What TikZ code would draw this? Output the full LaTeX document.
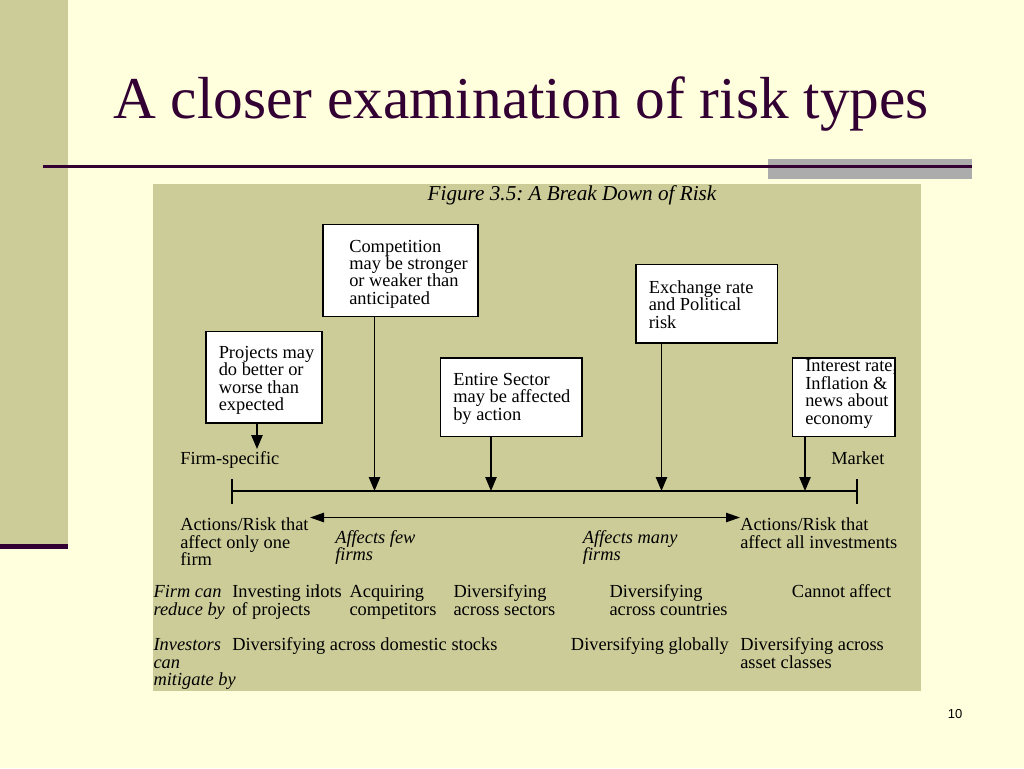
\documentclass[tikz,border=0pt]{standalone}
\usepackage{fontspec}
\setmainfont{Liberation Serif}
\newfontfamily\pnfont{Liberation Sans}
\usetikzlibrary{arrows.meta,fit}
\frenchspacing
\definecolor{bgcol}{RGB}{255,255,221}
\definecolor{khaki}{RGB}{204,204,153}
\definecolor{titlecol}{RGB}{51,0,51}
\definecolor{graybar}{RGB}{172,172,172}
\tikzset{
  txt/.style={inner sep=0pt, anchor=base west, align=left, font=\fontsize{13.8}{13.1}\selectfont},
  itxt/.style={txt, font=\fontsize{13.8}{13.1}\selectfont\itshape},
  boxst/.style={draw=black, fill=white, line width=1.1pt, inner sep=0pt},
  arr/.style={line width=1.1pt, -{Triangle[length=10.5pt,width=8.5pt]}},
  darr/.style={line width=1.1pt, {Triangle[length=10.5pt,width=7pt]}-{Triangle[length=10.5pt,width=7pt]}},
  axisline/.style={line width=1.1pt}
}
\begin{document}
\begin{tikzpicture}[x=0.75pt,y=-0.75pt]
\useasboundingbox (0,0) rectangle (1024,768);
\fill[bgcol] (0,0) rectangle (1024,768);
% left bar
\fill[khaki] (0,0) rectangle (68,544);
\fill[titlecol] (0,544) rectangle (68,548.5);
% title
\node[inner sep=0pt, anchor=base west, text=titlecol, font=\fontsize{44.5}{50}\selectfont] (title) at (113,118) {A closer examination of risk types};
% rule with gray block
\fill[graybar] (768,158.5) rectangle (972,179);
\draw[titlecol, line width=2pt] (43,166.7) -- (972,166.7);
% panel
\fill[khaki] (153,184) rectangle (921,690.5);
\node[inner sep=0pt, anchor=base, font=\fontsize{15.9}{17}\selectfont\itshape] (figt) at (572,200.5) {Figure 3.5: A Break Down of Risk};
% boxes
\node[boxst, fit={(323,224.5) (478,316.5)}] (comp) {};
\node[boxst, fit={(206,331.5) (322,423)}] (proj) {};
\node[boxst, fit={(440.5,358) (582,436.5)}] (sect) {};
\node[boxst, fit={(636,264.5) (777.5,343)}] (exch) {};
\node[boxst, fit={(792.5,358) (895,436.5)}] (intr) {};
% box texts (anchor = baseline of last line)
\node[txt] (comptxt) at (349,304.4) {Competition\\may be stronger\\or weaker than\\anticipated};
\node[txt] (projtxt) at (218.5,410.9) {Projects may\\do better or\\worse than\\expected};
\node[txt] (secttxt) at (453,420.4) {Entire Sector\\may be affected\\by action};
\node[txt] (exchtxt) at (648.5,328.4) {Exchange rate\\and Political\\risk};
\node[txt] (intrtxt) at (805,424.2) {Interest rate,\\Inflation \&\\news about\\economy};
% axis labels
\node[txt] (fs) at (180,464) {Firm-specific};
\node[txt] (mkt) at (831,464) {Market};
% axis
\coordinate (L) at (232,491);
\coordinate (R) at (857,491);
\draw[axisline] (L) -- (R);
\draw[axisline] ([yshift=-13*0.75pt]L) -- ([yshift=12.5*0.75pt]L);
\draw[axisline] ([yshift=-13*0.75pt]R) -- ([yshift=12.5*0.75pt]R);
% arrow targets
\coordinate (tp) at (257,449);
\coordinate (t1) at (374.5,491);
\coordinate (t2) at (491,491);
\coordinate (t3) at (661.5,491);
\coordinate (t4) at (805,491);
\draw[arr] (proj.south -| tp) -- (tp);
\draw[arr] (comp.south -| t1) -- (t1);
\draw[arr] (sect.south -| t2) -- (t2);
\draw[arr] (exch.south -| t3) -- (t3);
\draw[arr] (intr.south -| t4) -- (t4);
% double arrow
\coordinate (dl) at (310,517.5);
\coordinate (dr) at (740,517.5);
\draw[darr] (dl) -- (dr);
% lower labels
\node[txt] (act1) at (180,565.6) {Actions/Risk that\\affect only one\\firm};
\node[itxt] (few) at (335,560.8) {Affects few\\firms};
\node[itxt] (many) at (582.7,560.8) {Affects many\\firms};
\node[txt] (act2) at (740,548.2) {Actions/Risk that\\affect all investments};
% firm can reduce by
\node[itxt] (fcr) at (153.3,615.2) {Firm can\\reduce by};
\node[txt] (inv1) at (232,615.2) {Investing in\\of projects};
\node[txt] (lots) at (315,597.7) {lots};
\node[txt] (acq) at (349.3,615.2) {Acquiring\\competitors};
\node[txt] (dsec) at (453.3,615.2) {Diversifying\\across sectors};
\node[txt] (dcty) at (609.3,615.2) {Diversifying\\across countries};
\node[txt] (cannot) at (791.7,597.7) {Cannot affect};
% investors can mitigate by
\node[itxt] (icm) at (153.3,685.6) {Investors\\can\\mitigate by};
\node[txt] (ddom) at (232,650.7) {Diversifying across domestic stocks};
\node[txt] (dglob) at (570.7,650.7) {Diversifying globally};
\node[txt] (dasset) at (740,668.2) {Diversifying across\\asset classes};
% page number
\node[inner sep=0pt, anchor=base west, font=\pnfont\fontsize{9.75}{11}\selectfont] (pnum) at (947.7,718.7) {10};
\end{tikzpicture}
\end{document}
